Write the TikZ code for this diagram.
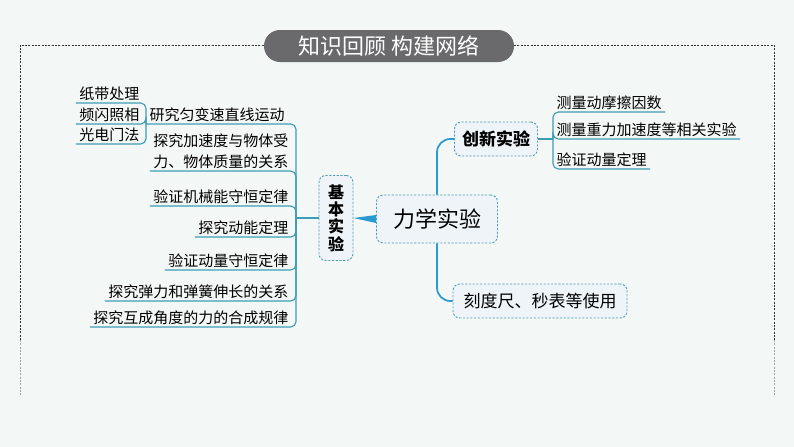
\documentclass[tikz,border=0pt]{standalone}
\usepackage{fontspec}
\setmainfont{Noto Sans CJK SC}
\usetikzlibrary{calc}
\definecolor{bgc}{HTML}{F3F7F5}
\definecolor{brteal}{HTML}{3E9DB5}
\definecolor{mainblue}{HTML}{2A9BD0}
\definecolor{boxfill}{HTML}{EEF4F8}
\definecolor{boxline}{HTML}{4F9DB3}
\definecolor{pillc}{HTML}{6A6A6C}
\begin{document}
\begin{tikzpicture}[x=0.75pt,y=-0.75pt,
  lbl/.style={inner xsep=2.5pt, inner ysep=1.5pt, font=\fontsize{11.25}{15.75}\selectfont, text=black},
  brline/.style={draw=brteal, line width=0.85pt, rounded corners=4pt},
  mainline/.style={draw=mainblue, line width=1.3pt, rounded corners=10pt},
  dbox/.style={draw=boxline, dash pattern=on 1.6pt off 1.2pt, line width=0.7pt, fill=boxfill, rounded corners=5pt, inner sep=2pt},
  framel/.style={dash pattern=on 1.5pt off 1pt, line width=0.6pt}]
\fill[bgc] (0,0) rectangle (794,447);
\useasboundingbox (0,0) rectangle (794,447);
% frame
\draw[framel, draw=black!80] (20,340) -- (20,45) -- (264,45);
\draw[framel, draw=black!80] (514,45) -- (774,45) -- (774,340);
\draw[framel, draw=black!35] (20,340) -- (20,395);
\draw[framel, draw=black!35] (774,340) -- (774,395);
% title
\node[fill=pillc, rounded corners=12pt, minimum width=187.5pt, minimum height=24pt, text=white, font=\fontsize{16.5}{18}\selectfont] (title) at (389,46) {知识回顾 构建网络};
% left branch
\coordinate (J) at (296,218);
\node[lbl, anchor=south west] (yan) at (146,124) {研究匀变速直线运动};
\node[lbl, anchor=south east, align=right] (jsd) at (292,171) {探究加速度与物体受\\力、物体质量的关系};
\node[lbl, anchor=south east] (jxn) at (292,206) {验证机械能守恒定律};
\node[lbl, anchor=south east] (dn) at (292,237) {探究动能定理};
\node[lbl, anchor=south east] (dl) at (292,270) {验证动量守恒定律};
\node[lbl, anchor=south east] (th) at (292,301) {探究弹力和弹簧伸长的关系};
\node[lbl, anchor=south east] (hc) at (292,327) {探究互成角度的力的合成规律};
\foreach \n in {yan,jsd,jxn,dn,dl,th,hc} \draw[brline] (J) |- (\n.south west);
% small branch
\node[lbl, anchor=south east] (zd) at (143,103) {纸带处理};
\node[lbl, anchor=south east] (pz) at (143,124) {频闪照相};
\node[lbl, anchor=south east] (gd) at (143,144) {光电门法};
\foreach \n in {zd,pz,gd} \draw[brline] (yan.south west) |- (\n.south west);
% centre boxes
\node[dbox, minimum width=25.5pt, minimum height=63.75pt, align=center, font=\fontsize{12}{13}\bfseries] (jb) at (336,218) {基\\本\\实\\验};
\draw[brline] (J) -- (jb.west);
\node[dbox, minimum width=90.75pt, minimum height=36pt, font=\fontsize{16.5}{18}\selectfont] (lx) at (437,219) {力学实验};
\fill[mainblue] (jb.east) -- ($(lx.west)+(0,-4)$) -- ($(lx.west)+(0,4)$) -- cycle;
\node[dbox, minimum width=62.25pt, minimum height=25.5pt, font=\fontsize{12.75}{14}\bfseries] (cx) at (496,139) {创新实验};
\node[dbox, minimum width=130.5pt, minimum height=25.5pt, font=\fontsize{12.75}{14}\selectfont] (kd) at (540,301) {刻度尺、秒表等使用};
\draw[mainline] (lx.north) |- (cx.west);
\draw[mainline] (lx.south) |- (kd.west);
% right branch
\coordinate (J3) at (553,139);
\draw[brline] (cx.east) -- (J3);
\node[lbl, anchor=south west] (cm) at (553,112) {测量动摩擦因数};
\node[lbl, anchor=south west] (zl) at (553,139) {测量重力加速度等相关实验};
\node[lbl, anchor=south west] (dt) at (553,169) {验证动量定理};
\foreach \n in {cm,zl,dt} \draw[brline] (J3) |- (\n.south east);
\end{tikzpicture}
\end{document}
